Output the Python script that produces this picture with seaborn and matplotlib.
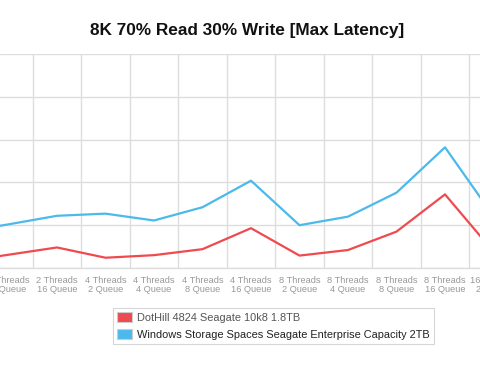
import matplotlib
matplotlib.use("Agg")
import matplotlib.pyplot as plt
import matplotlib.patches as mpatches
import seaborn as sns
import pandas as pd

categories = [
    "2 Threads\n4 Queue", "2 Threads\n8 Queue", "2 Threads\n16 Queue",
    "4 Threads\n2 Queue", "4 Threads\n4 Queue", "4 Threads\n8 Queue",
    "4 Threads\n16 Queue", "8 Threads\n2 Queue", "8 Threads\n4 Queue",
    "8 Threads\n8 Queue", "8 Threads\n16 Queue", "16 Threads\n2 Queue",
]
series_names = ["DotHill 4824 Seagate 10k8 1.8TB",
                "Windows Storage Spaces Seagate Enterprise Capacity 2TB"]
dothill = [7, 15.5, 24, 12, 15, 22, 46.5, 14.5, 21, 42.5, 86, 19]
windows = [41.5, 51, 61, 63.5, 55.5, 71, 102, 50, 60, 88, 141, 60.5]
y_ticks = [0, 50, 100, 150, 200, 250]
colors = ["#ef4a4f", "#4cb9ec"]

rows = []
for name, vals in zip(series_names, [dothill, windows]):
    for i, v in enumerate(vals):
        rows.append({"idx": i, "value": v, "series": name})
df = pd.DataFrame(rows)

sns.set_style("white")
plt.rcParams['font.family'] = ['Liberation Sans', 'DejaVu Sans']

W, H = 480, 374
fig = plt.figure(figsize=(W / 100, H / 100), dpi=100)
ax_top, ax_bot = 54, 268
ax = fig.add_axes([0, (H - ax_bot) / H, 1, (ax_bot - ax_top) / H])

sns.lineplot(data=df, x="idx", y="value", hue="series", palette=colors,
             linewidth=1.6, ax=ax, legend=False, sort=False)

label_kw = dict(fontsize=6.7, color="#999999", linespacing=1.0)
ax.set_yticks(y_ticks)
ax.set_yticklabels([])
ax.set_xticks(range(len(categories)))
ax.set_xticklabels(categories, **label_kw)
ax.tick_params(axis="x", length=0, pad=6)
ax.tick_params(axis="y", length=0)
ax.set_xticks([i + 0.5 for i in range(-1, len(categories))], minor=True)
ax.grid(True, which="minor", axis="x", color="#dddddd", linewidth=1)
ax.grid(True, which="major", axis="y", color="#dddddd", linewidth=1)
ax.tick_params(which="minor", length=0)

px_per = 48.5
x0 = 2 - 57 / px_per
x1 = 2 + (W - 57) / px_per
ax.set_xlim(x0, x1)
ax.set_ylim(y_ticks[0], y_ticks[-1])

# label of the category that lies just past the right edge (partly visible)
last = len(categories) - 1
ax.annotate(categories[last], xy=(last, 0), xycoords=("data", "axes fraction"),
            xytext=(0, -6), textcoords="offset points", ha="center", va="top",
            annotation_clip=False, **label_kw)

ax.set_xlabel("")
ax.set_ylabel("")
for s in ["left", "right", "top"]:
    ax.spines[s].set_visible(False)
ax.spines["bottom"].set_color("#dddddd")
ax.spines["bottom"].set_linewidth(1)
ax.set_axisbelow(True)

fig.text(247.5 / W, 1 - 30 / H, "8K 70% Read 30% Write [Max Latency]",
         ha="center", va="center", fontsize=12.4, fontweight="bold", color="#111111")

handles = [mpatches.Patch(facecolor=c, edgecolor="#cccccc", linewidth=0.8) for c in colors]
leg = fig.legend(handles, series_names, loc="upper left",
                 bbox_to_anchor=(113 / W, 1 - 308 / H), frameon=True,
                 fontsize=7.9, handlelength=1.3, handleheight=0.95,
                 handletextpad=0.5, labelspacing=0.6, borderpad=0.4,
                 borderaxespad=0, fancybox=False)
leg.get_frame().set_edgecolor("#cccccc")
leg.get_frame().set_linewidth(0.8)
texts = leg.get_texts()
texts[0].set_color("#555555")
texts[1].set_color("#222222")

fig.savefig("out.png", dpi=100)
